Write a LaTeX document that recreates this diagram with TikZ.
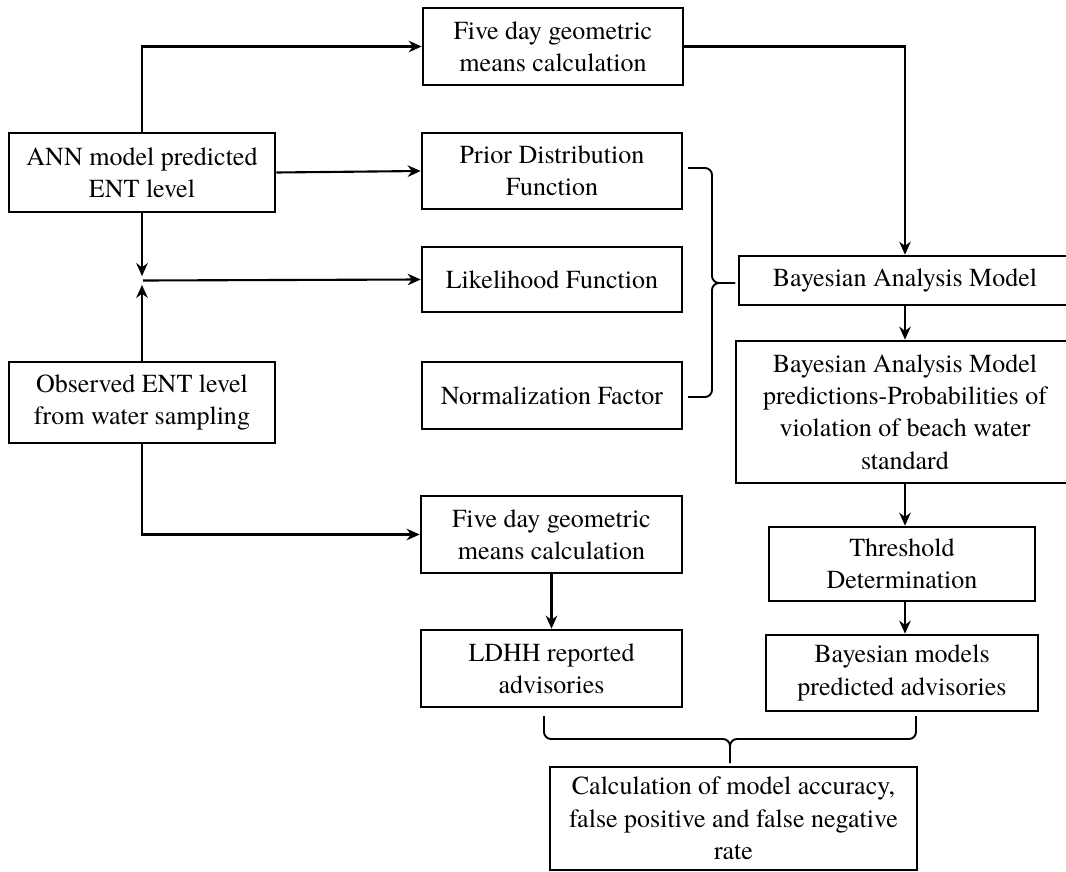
\documentclass[tikz,border=0pt]{standalone}
\usepackage{fontspec}
\setmainfont{texgyretermes-regular.otf}
\usepackage{tikz}
\usetikzlibrary{arrows.meta}

\begin{document}
\begin{tikzpicture}[x=0.02cm,y=-0.02cm,
        box/.style n args={2}{draw,line width=1.5pt,align=center,inner sep=0pt,
            minimum width=#1*0.02cm,minimum height=#2*0.02cm,
            font=\fontsize{14.8}{18.4}\selectfont},
        arr/.style={-{Stealth[length=2.6mm,width=2.3mm]},line width=1.2pt},
        brc/.style={rounded corners=4pt,line width=1.1pt}]
        \useasboundingbox (0,0) rectangle (1066,872);

        % left column
        \node[box={266}{79}] (ann) at (142,172.5) {ANN model predicted\\ENT level};
        \node[box={266}{81}] (obs) at (142,402.5) {Observed ENT level\\from water sampling};

        % middle column
        \node[box={260}{77}] (five1) at (553,46.5) {Five day geometric\\means calculation};
        \node[box={260}{76}] (prior) at (552,171) {Prior Distribution\\Function};
        \node[box={260}{65}] (lik) at (552,279.5) {Likelihood Function};
        \node[box={260}{67}] (norm) at (552,395.5) {Normalization Factor};
        \node[box={261}{77}] (five2) at (551.5,534.5) {Five day geometric\\means calculation};
        \node[box={261}{77}] (ldhh) at (551.5,668.5) {LDHH reported\\advisories};

        % right column
        \node[box={332}{49}] (bam) at (905,280.5) {Bayesian Analysis Model};
        \node[box={338}{142}] (pred) at (905,412) {Bayesian Analysis Model\\predictions-Probabilities of\\violation of beach water\\standard};
        \node[box={266}{74}] (thr) at (902,564) {Threshold\\Determination};
        \node[box={272}{76}] (bmp) at (902,673) {Bayesian models\\predicted advisories};

        \node[box={367}{103}] (calc) at (733.5,818.5) {Calculation of model accuracy,\\false positive and false negative\\rate};

        \coordinate (j) at (143,280.5);
        % brace ends and tips
        \coordinate (rt) at (688,168);
        \coordinate (rb) at (688,397);
        \coordinate (rtip) at (735,283);
        \coordinate (bl) at (544,716);
        \coordinate (br) at (916,716);
        \coordinate (btip) at (730,763);

        \draw[arr] (ann.north) |- (five1.west);
        \draw[arr] (ann.east) -- (prior.west);
        \draw[arr] (ann.south) -- ([yshift=2.5pt]ann.south |- j);
        \draw[arr] (obs.north) -- ([yshift=-2.5pt]obs.north |- j);
        \draw[arr] (j) -- (lik.west);
        \draw[arr] (obs.south) |- (five2.west);
        \draw[arr] (five2.south) -- (ldhh.north);

        \draw[arr] (five1.east) -| (bam.north);
        \draw[arr] (bam.south) -- (pred.north);
        \draw[arr] (pred.south) -- (pred.south |- thr.north);
        \draw[arr] (pred.south |- thr.south) -- (pred.south |- bmp.north);

        \draw[brc] (rt) -- (712,168) -- (712,283) -- (rtip);
        \draw[brc] (rb) -- (712,397) -- (712,283) -- (rtip);
        \draw[brc] (bl) -- (544,739) -- (730,739) -- (btip);
        \draw[brc] (br) -- (916,739) -- (730,739) -- (btip);
    \end{tikzpicture}
\end{document}
